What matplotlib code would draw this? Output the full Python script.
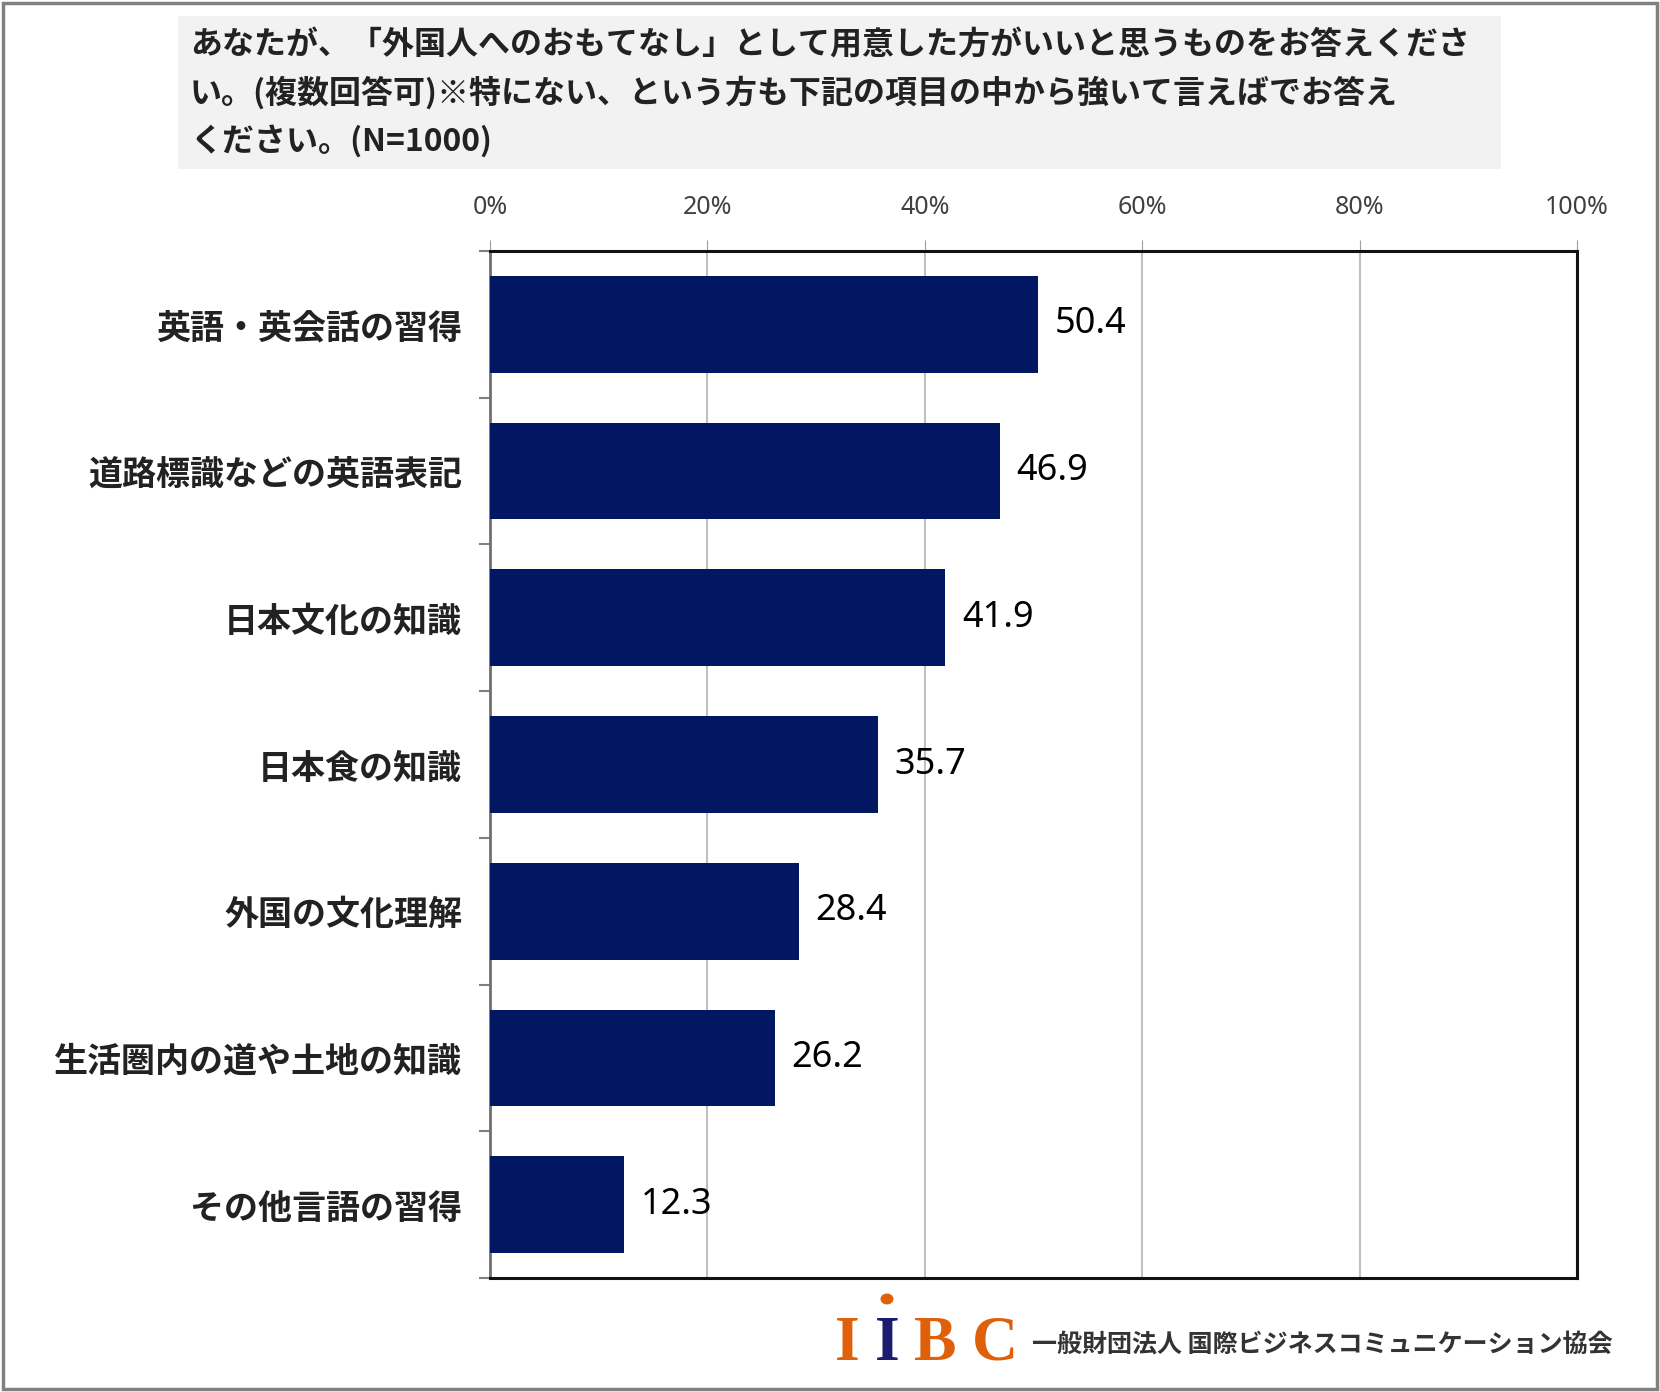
import matplotlib
matplotlib.use("Agg")
import matplotlib.pyplot as plt
from matplotlib.patches import Rectangle, Circle
import numpy as np

plt.rcParams['font.family'] = ['Noto Sans CJK JP', 'DejaVu Sans']

# データ
categories = ['英語・英会話の習得', '道路標識などの英語表記', '日本文化の知識', '日本食の知識',
              '外国の文化理解', '生活圏内の道や土地の知識', 'その他言語の習得']
values = [50.4, 46.9, 41.9, 35.7, 28.4, 26.2, 12.3]
xticks = [0, 20, 40, 60, 80, 100]
xtick_labels = ['0%', '20%', '40%', '60%', '80%', '100%']

title_lines = ['あなたが、「外国人へのおもてなし」として用意した方がいいと思うものをお答えくださ',
               'い。(複数回答可)※特にない、という方も下記の項目の中から強いて言えばでお答え',
               'ください。(N=1000)']

W, H = 1660, 1392
fig = plt.figure(figsize=(W / 100, H / 100), dpi=100)

# 外枠
fig.patches.append(Rectangle((0.002, 0.002), 0.996, 0.996, transform=fig.transFigure,
                             fill=False, edgecolor='#808080', lw=2.5))
# タイトルの背景
fig.patches.append(Rectangle((178 / W, 1 - 169 / H), (1501 - 178) / W, (169 - 16) / H,
                             transform=fig.transFigure, facecolor='#f2f2f2', edgecolor='none'))
for i, line in enumerate(title_lines):
    fig.text(190 / W, 1 - (45 + i * 48) / H, line, fontsize=23, fontweight='bold',
             color='#222222', va='center', ha='left')

ax = fig.add_axes([490 / W, 1 - 1278 / H, (1577 - 490) / W, (1278 - 251) / H])
y = np.arange(len(categories))
ax.barh(y, values, height=0.66, color='#021761', zorder=3)
for yi, v in zip(y, values):
    ax.annotate(f'{v:.1f}', (v, yi), xytext=(12, 0), textcoords='offset points',
                va='center', ha='left', fontsize=26, family=['Noto Sans', 'DejaVu Sans'])

ax.set_xlim(0, 100)
ax.set_ylim(len(categories) - 0.5, -0.5)
ax.set_xticks(xticks)
ax.set_xticklabels(xtick_labels, fontsize=18, color='#404040', family=['Noto Sans', 'DejaVu Sans'])
ax.xaxis.tick_top()
ax.tick_params(axis='x', length=8, color='#a0a0a0', pad=14)
ax.grid(axis='x', color='#c0c0c0', lw=1.5, zorder=0)

ax.set_yticks(y)
ax.set_yticklabels(categories, fontsize=24.5, fontweight='bold', color='#222222')
ax.tick_params(axis='y', which='major', length=0, pad=20)
ax.set_yticks(np.arange(-0.5, len(categories)), minor=True)
ax.tick_params(axis='y', which='minor', length=8, color='#808080', width=1.5)

for s in ['top', 'bottom', 'right']:
    ax.spines[s].set_color('#111111')
    ax.spines[s].set_linewidth(2.2)
ax.spines['left'].set_color('#707070')
ax.spines['left'].set_linewidth(2)

# ロゴ
orange = '#e0600a'
navy = '#1b1b70'
logo_x = [847, 887, 935, 995]
logo_c = [orange, navy, orange, orange]
for ch, xx, cc in zip('IIBC', logo_x, logo_c):
    fig.text(xx / W, 1 - 1360 / H, ch, fontsize=46, fontweight='bold', color=cc,
             family='Liberation Serif', ha='center', va='baseline')
fig.patches.append(Circle((887 / W, 1 - 1299 / H), 6.5 / W, transform=fig.transFigure,
                          facecolor=orange, edgecolor='none'))
fig.text(1032 / W, 1 - 1345 / H, '一般財団法人 国際ビジネスコミュニケーション協会',
         fontsize=18, fontweight='bold', color='#333333', ha='left', va='center')

fig.savefig('out.png', dpi=100)
